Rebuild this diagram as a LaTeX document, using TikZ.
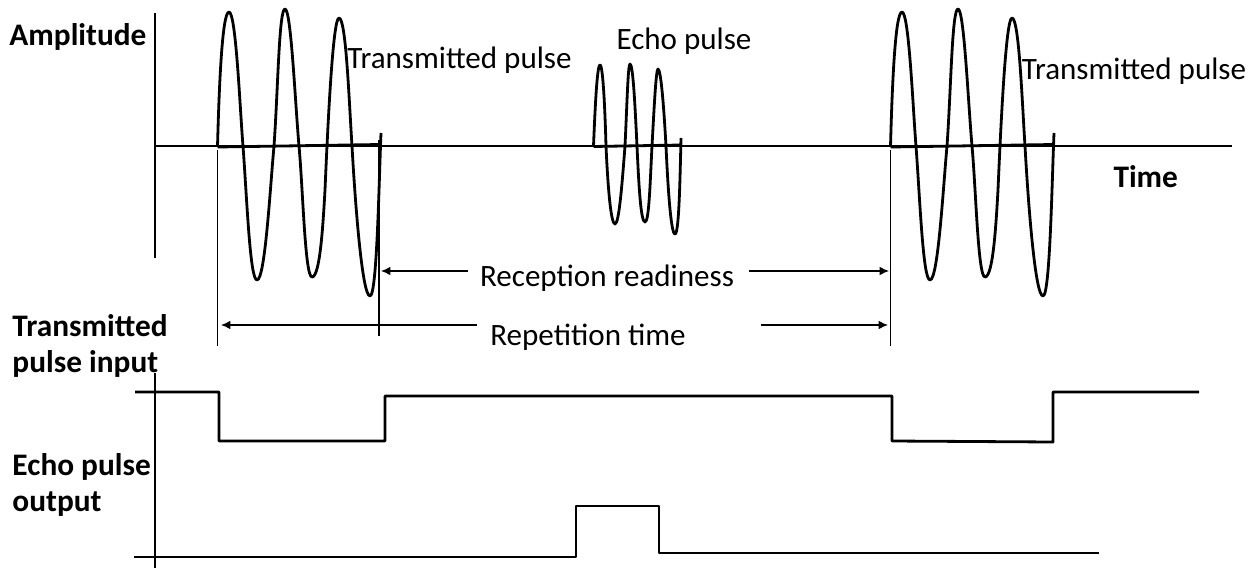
\documentclass[tikz,border=0pt]{standalone}
\usepackage{fontspec}
\setmainfont{Carlito}
\usetikzlibrary{arrows.meta}
\tikzset{every picture/.style={line width=0.75pt}}
\tikzset{
  signal/.style={line width=2.1pt,line join=round},
  guide/.style={line width=1pt},
  span/.style={line width=1pt,-{Latex[length=7pt,width=6.5pt]}},
  caption/.style={font=\fontsize{23.3}{28}\selectfont,inner sep=0pt},
  heading/.style={font=\fontsize{23.5}{27.6}\selectfont\bfseries,inner sep=0pt,align=left,anchor=west}
}
% one transmitted burst, starting at x offset #1
\newcommand{\burst}[1]{
\begin{scope}[xshift=#1*0.75pt]
\draw [signal] (217.5,147) -- (380,144.5) ;
\draw [signal] (217.5,147) .. controls (219,90) and (222,12) .. (229,12) .. controls (236,12) and (240,110) .. (243,146) .. controls (247,200) and (250,280) .. (257,280) .. controls (265,280) and (270,190) .. (274,146) .. controls (278,90) and (279,9) .. (285,9) .. controls (291,9) and (295,100) .. (299,146) .. controls (303,190) and (305,277) .. (312,277) .. controls (320,277) and (323,225) .. (325,190) .. controls (328,120) and (333,18) .. (339,18) .. controls (346,18) and (349,100) .. (352,146) .. controls (355,200) and (362,296) .. (370,296) .. controls (377,296) and (379,180) .. (381,133) ;
\end{scope}
}

\begin{document}
\begin{tikzpicture}[x=0.75pt,y=0.75pt,yscale=-1]
\useasboundingbox (0,0) rectangle (1254,568);

% Axes
\draw [signal] (155,13) -- (155,258) ;
\draw [signal] (155,146) -- (1232,146) ;
\draw [signal] (155,373) -- (155,568) ;

% Transmitted pulses
\burst{0}
\burst{673}

% Echo pulse
\draw [signal] (593.5,146.5) -- (681,145) ;
\draw [signal] (593.5,146) .. controls (595,110) and (597,65) .. (600,65) .. controls (603,65) and (605,110) .. (606,146) .. controls (608,190) and (611,224) .. (615,224) .. controls (619,224) and (622,185) .. (625,146) .. controls (627,105) and (628,64) .. (630,64) .. controls (633,64) and (635,105) .. (637,146) .. controls (639,190) and (641,222) .. (645,222) .. controls (649,222) and (650,185) .. (652,146) .. controls (654,110) and (656,69) .. (658,69) .. controls (661,69) and (664,110) .. (666,146) .. controls (668,190) and (671,234) .. (675,234) .. controls (679,234) and (680,180) .. (681,138) ;

% Square traces
\draw [signal] (135,392) -- (219,392) -- (219,441) -- (385,441) -- (385,396) -- (892,396) -- (892,441) -- (1053,442) -- (1053,392) -- (1199,392) ;
\draw [signal] (134,557) -- (576,557) -- (576,506) -- (659,506) -- (659,553) -- (1099,553) ;

% Guides
\draw [guide] (217.5,150) -- (217.5,346) ;
\draw [guide] (379,140) -- (379,336) ;
\draw [guide] (890.5,150) -- (890.5,346) ;

% Text Node
\node [heading] (amplitude) at (9,37) {Amplitude};
\node [heading] (time) at (1113,177) {Time};
\node [heading] (transmitted) at (12,346) {Transmitted\\pulse input};
\node [heading] (echolabel) at (12,485) {Echo pulse\\output};
\node [caption] (txfirst) at (459.5,60) {Transmitted pulse};
\node [caption] (echotext) at (684,41) {Echo pulse};
\node [caption] (txsecond) at (1134,71) {Transmitted pulse};
\node [caption] (reception) at (607,278) {Reception readiness};
\node [caption] (repetition) at (588,337) {Repetition time};

% Arrows
\coordinate (recleft) at (381,271);
\coordinate (recright) at (889,271);
\coordinate (repleft) at (221,325);
\coordinate (repright) at (888,325);
\draw [span] (reception.west |- recleft) ++(-12,0) -- (recleft) ;
\draw [span] (reception.east |- recright) ++(15,0) -- (recright) ;
\draw [span] (repetition.west |- repleft) ++(-13,0) -- (repleft) ;
\draw [span] (repetition.east |- repright) ++(75,0) -- (repright) ;
\end{tikzpicture}
\end{document}
